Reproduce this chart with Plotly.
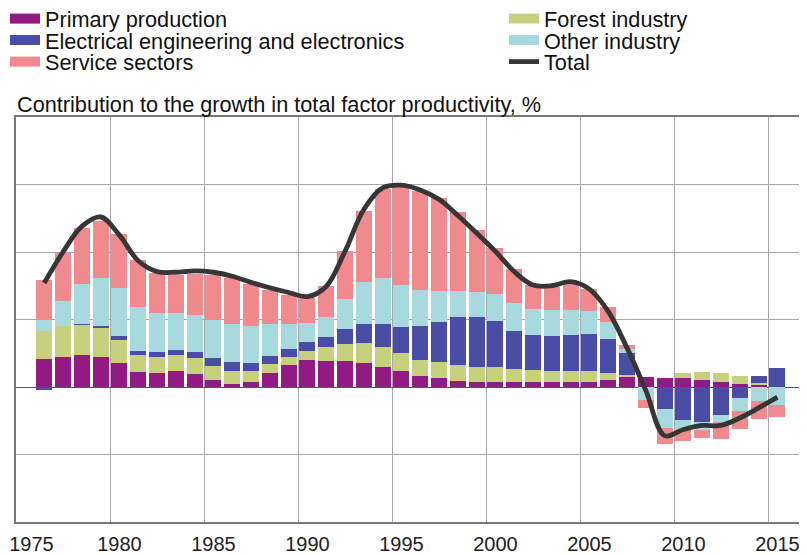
import plotly.graph_objects as go

years = [1976, 1977, 1978, 1979, 1980, 1981, 1982, 1983, 1984, 1985,
         1986, 1987, 1988, 1989, 1990, 1991, 1992, 1993, 1994, 1995,
         1996, 1997, 1998, 1999, 2000, 2001, 2002, 2003, 2004, 2005,
         2006, 2007, 2008, 2009, 2010, 2011, 2012, 2013, 2014, 2015]

primary = [0.41, 0.44, 0.48, 0.45, 0.36, 0.22, 0.21, 0.24, 0.19, 0.11,
           0.05, 0.07, 0.21, 0.32, 0.40, 0.39, 0.38, 0.36, 0.30, 0.23,
           0.16, 0.13, 0.09, 0.08, 0.08, 0.08, 0.08, 0.08, 0.08, 0.08,
           0.11, 0.15, 0.15, 0.13, 0.13, 0.11, 0.08, 0.05, 0.03, 0.00]

forest = [0.42, 0.46, 0.44, 0.42, 0.34, 0.26, 0.24, 0.23, 0.24, 0.195,
          0.18, 0.16, 0.13, 0.12, 0.14, 0.20, 0.26, 0.29, 0.30, 0.27,
          0.24, 0.24, 0.24, 0.22, 0.22, 0.19, 0.17, 0.15, 0.16, 0.15,
          0.10, 0.03, 0.00, 0.00, 0.08, 0.11, 0.13, 0.11, 0.03, 0.00]

electrical = [-0.05, 0.00, 0.02, 0.04, 0.05, 0.06, 0.07, 0.08, 0.09, 0.125,
              0.135, 0.125, 0.12, 0.12, 0.12, 0.15, 0.22, 0.29, 0.34, 0.39,
              0.50, 0.60, 0.71, 0.74, 0.68, 0.56, 0.52, 0.53, 0.53, 0.55,
              0.50, 0.32, 0.00, -0.33, -0.485, -0.52, -0.42, -0.16, 0.10, 0.28]

other = [0.17, 0.37, 0.59, 0.71, 0.72, 0.65, 0.58, 0.54, 0.54, 0.57,
         0.565, 0.545, 0.48, 0.38, 0.29, 0.30, 0.44, 0.61, 0.68, 0.625,
         0.53, 0.45, 0.38, 0.37, 0.40, 0.41, 0.38, 0.375, 0.375, 0.345,
         0.25, 0.06, -0.19, -0.27, -0.15, -0.11, -0.10, -0.20, -0.21, -0.27]

service = [0.59, 0.71, 0.825, 0.84, 0.80, 0.685, 0.59, 0.57, 0.62, 0.66,
           0.68, 0.63, 0.50, 0.42, 0.38, 0.45, 0.71, 1.06, 1.32, 1.455,
           1.47, 1.38, 1.18, 0.91, 0.68, 0.51, 0.355, 0.345, 0.39, 0.33,
           0.22, 0.065, -0.12, -0.24, -0.17, -0.12, -0.25, -0.26, -0.26, -0.18]

total = [1.54, 2.00, 2.38, 2.52, 2.25, 1.87, 1.71, 1.70, 1.72, 1.70,
         1.64, 1.55, 1.47, 1.40, 1.34, 1.49, 2.01, 2.63, 2.95, 2.99,
         2.92, 2.78, 2.54, 2.28, 2.01, 1.71, 1.51, 1.50, 1.56, 1.45,
         1.12, 0.58, -0.05, -0.72, -0.63, -0.57, -0.57, -0.46, -0.31, -0.15]

label_years = [1975, 1980, 1985, 1990, 1995, 2000, 2005, 2010, 2015]
tick_labels = ["1975", "1980", "1985", "1990", "1995", "2000", "2005", "2010", "2015"]

series = [
    ("Primary production", primary, "#931A84"),
    ("Forest industry", forest, "#C7D17D"),
    ("Electrical engineering and electronics", electrical, "#4A4DA6"),
    ("Other industry", other, "#A8D9DE"),
    ("Service sectors", service, "#F08A8F"),
]

FONT = "Liberation Sans, Arial, sans-serif"
# the page body adds an 8px offset; figure coordinates below compensate for it
W, H = 799, 547
ML, MR, MT, MB = 8, 0, 109, 33
PW, PH = W - ML - MR, H - MT - MB
PX_PER_YEAR = 18.8

bar_x = [y + 0.5 for y in years]

# labels sit in the middle of their year; the first is nudged right to stay inside the page
label_pos = [y + 0.5 for y in label_years]
label_pos[0] += 6 / PX_PER_YEAR

# legend slots: (legend id, left px, row-centre px) in figure pixels
col_x = [-3, 496]
row_y = [11, 32.5, 54]
slots = []
for i in range(6):
    slots.append(("legend" if i == 0 else "legend%d" % (i + 1), col_x[i % 2], row_y[i // 2]))

fig = go.Figure()

for i, (name, vals, col) in enumerate(series):
    fig.add_trace(go.Scatter(x=[None], y=[None], mode="lines", name=name,
                             line=dict(color=col, width=10), legendgroup=name,
                             legend=slots[i][0], hoverinfo="skip"))

for name, vals, col in series:
    fig.add_trace(go.Bar(x=bar_x, y=vals, name=name, marker=dict(color=col, line=dict(width=0)),
                         width=0.86, showlegend=False, legendgroup=name))

fig.add_trace(go.Scatter(x=bar_x, y=total, name="Total", mode="lines",
                         line=dict(color="#363636", width=4.8, shape="spline", smoothing=1.0),
                         xaxis="x2", legend=slots[5][0]))

legend_layouts = {}
for lid, px, py in slots:
    legend_layouts[lid] = dict(
        xref="paper", yref="paper",
        x=(px - ML) / PW, y=(H - MB - py) / PH,
        xanchor="left", yanchor="middle",
        bgcolor="rgba(0,0,0,0)", borderwidth=0, itemwidth=30,
        font=dict(family=FONT, size=21.7, color="#111111"))

xr = [1975, 1975 + PW / PX_PER_YEAR]
fig.update_layout(
    width=W, height=H,
    margin=dict(l=ML, r=MR, t=MT, b=MB, autoexpand=False),
    paper_bgcolor="white", plot_bgcolor="white",
    barmode="relative", bargap=0,
    font=dict(family=FONT, size=20, color="#111111"),
    showlegend=True,
    xaxis=dict(range=xr, tickvals=label_pos, ticktext=tick_labels,
               showgrid=False, zeroline=False, ticklabeloverflow="allow",
               showline=True, mirror=True, linecolor="#777777", linewidth=1.5,
               ticks="outside", ticklen=3, tickcolor="rgba(0,0,0,0)",
               tickfont=dict(family=FONT, size=20, color="#222222")),
    xaxis2=dict(range=xr, overlaying="x", anchor="y", side="bottom",
                tickvals=label_years, showticklabels=False, ticks="",
                showgrid=True, gridcolor="#A8A8A8", gridwidth=1, zeroline=False,
                showline=False),
    yaxis=dict(range=[-2, 4], dtick=1, tick0=0, showticklabels=False, ticks="",
               showgrid=True, gridcolor="#A8A8A8", gridwidth=1,
               zeroline=True, zerolinecolor="#555555", zerolinewidth=1.2,
               showline=True, linecolor="#777777", linewidth=1.5, mirror=False),
    annotations=[dict(text="Contribution to the growth in total factor productivity, %",
                      xref="paper", yref="paper", x=-1 / PW, y=1 + (MT - 97) / PH,
                      xanchor="left", yanchor="middle", showarrow=False,
                      font=dict(family=FONT, size=21.7, color="#111111"))],
    **legend_layouts,
)

fig.write_html("out.html")
